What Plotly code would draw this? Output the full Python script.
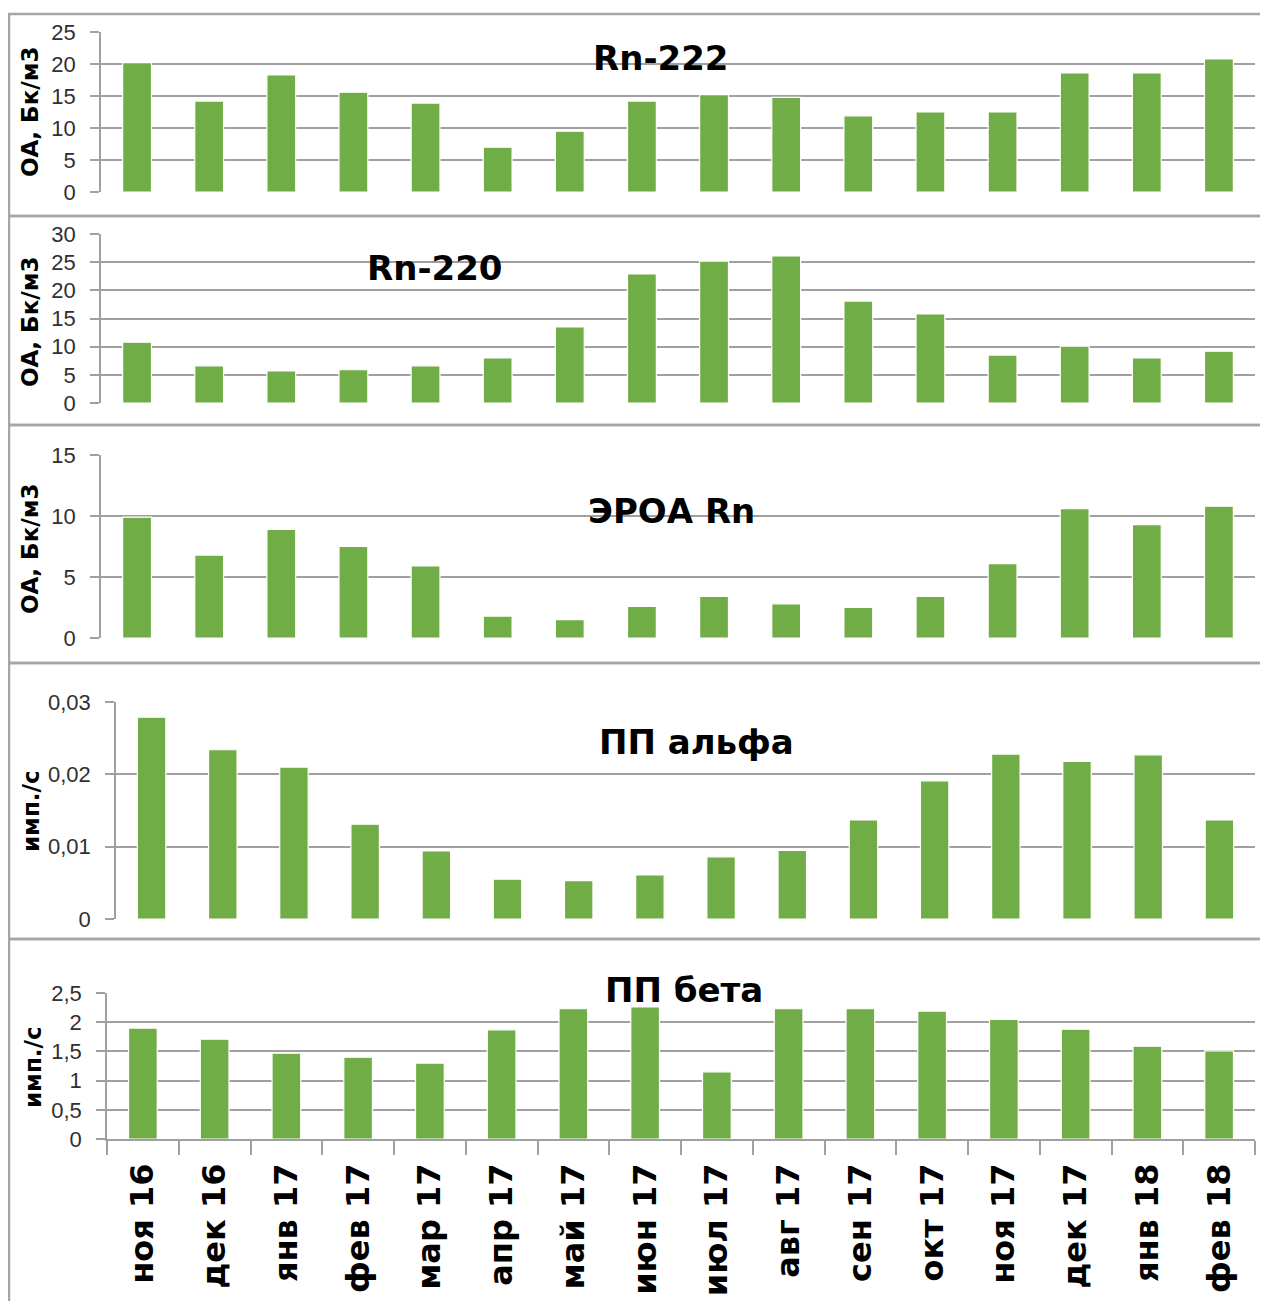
import plotly.graph_objects as go

months = ["ноя 16", "дек 16", "янв 17", "фев 17", "мар 17", "апр 17", "май 17", "июн 17",
          "июл 17", "авг 17", "сен 17", "окт 17", "ноя 17", "дек 17", "янв 18", "фев 18"]
rn222 = [20.2, 14.2, 18.3, 15.6, 13.9, 7.0, 9.5, 14.2, 15.2, 14.8, 11.9, 12.5, 12.5, 18.6, 18.6, 20.8]
rn220 = [10.8, 6.6, 5.7, 5.9, 6.6, 8.0, 13.5, 22.9, 25.2, 26.1, 18.1, 15.8, 8.5, 10.1, 8.0, 9.2]
eroa = [9.9, 6.8, 8.9, 7.5, 5.9, 1.8, 1.5, 2.6, 3.4, 2.8, 2.5, 3.4, 6.1, 10.6, 9.3, 10.8]
pp_alpha = [0.0279, 0.0234, 0.0210, 0.0131, 0.0094, 0.0055, 0.0053, 0.0061,
            0.0086, 0.0095, 0.0137, 0.0191, 0.0228, 0.0218, 0.0227, 0.0137]
pp_beta = [1.90, 1.71, 1.47, 1.40, 1.30, 1.87, 2.23, 2.26, 1.15, 2.23, 2.23, 2.19, 2.05, 1.88, 1.59, 1.51]

series = [rn222, rn220, eroa, pp_alpha, pp_beta]
titles = ["Rn-222", "Rn-220", "ЭРОА Rn", "ПП альфа", "ПП бета"]
ytitles = ["ОА, Бк/м3", "ОА, Бк/м3", "ОА, Бк/м3", "имп./с", "имп./с"]
yranges = [[0, 25], [0, 30], [0, 15], [0, 0.03], [0, 2.5]]
ydticks = [5, 5, 5, 0.01, 0.5]

# page body has an 8px margin: figure is placed at (8, 8)
OFF = 8
W, H = 1268 - OFF, 1301 - OFF
# pixel layout in page coordinates (top, bottom of plot area; left, right)
ypix = [(32, 192), (234, 403), (455, 638), (702, 919), (993, 1139)]
xpix = [(101, 1255), (101, 1255), (101, 1255), (116, 1255), (107, 1255)]
title_pos = [(660, 58), (434, 268), (671, 511), (697, 742), (684, 990)]
ytitle_pos = [(30, 112), (30, 322), (30, 549), (31, 811), (33, 1067)]
boxes = [(14, 216), (216, 425), (425, 663), (663, 939), (939, 1330)]

GREEN = "#70AD47"
GRID = "#A0A0A0"
BORDER = "#A6A6A6"

def py(p):
    return 1 - (p - OFF) / H

def px(p):
    return (p - OFF) / W

fig = go.Figure()
layout = dict(width=W, height=H, margin=dict(l=0, r=0, t=0, b=0, pad=0, autoexpand=False),
              paper_bgcolor="white", plot_bgcolor="white",
              separators=", ", showlegend=False, bargap=0.6,
              font=dict(family="Liberation Sans, Arial, sans-serif", color="#404040"))
annotations = []
shapes = []

for i in range(5):
    xa = "x" if i == 0 else f"x{i+1}"
    ya = "y" if i == 0 else f"y{i+1}"
    fig.add_trace(go.Bar(x=months, y=series[i], xaxis=xa, yaxis=ya,
                         marker=dict(color=GREEN, line=dict(color="white", width=1.2))))
    xkey = "xaxis" if i == 0 else f"xaxis{i+1}"
    ykey = "yaxis" if i == 0 else f"yaxis{i+1}"
    last = i == 4
    layout[xkey] = dict(domain=[px(xpix[i][0]), px(xpix[i][1])], anchor=ya,
                        type="category", showgrid=False, zeroline=False, automargin=False,
                        showline=last, linecolor=GRID, linewidth=1.5,
                        showticklabels=last,
                        ticks="outside" if last else "", tickson="boundaries",
                        ticklen=14, tickcolor=GRID, tickwidth=1.5,
                        tickangle=-90, ticklabelstandoff=10,
                        tickfont=dict(family="DejaVu Sans, sans-serif", size=32,
                                      color="black", weight="bold"))
    layout[ykey] = dict(domain=[py(ypix[i][1]), py(ypix[i][0])], anchor=xa,
                        range=yranges[i], dtick=ydticks[i], tick0=0, automargin=False,
                        showgrid=True, gridcolor=GRID, gridwidth=1.5,
                        zeroline=False, showline=True, linecolor=GRID, linewidth=1.5,
                        ticks="outside", ticklen=9, tickcolor=GRID, tickwidth=1.5,
                        ticklabelstandoff=10,
                        tickfont=dict(family="Liberation Sans, Arial, sans-serif",
                                      size=22, color="#303030"))
    tx, ty = title_pos[i]
    annotations.append(dict(text=titles[i], x=px(tx), y=py(ty), xref="paper", yref="paper",
                            xanchor="center", yanchor="middle", showarrow=False,
                            font=dict(family="DejaVu Sans, sans-serif", size=34,
                                      color="black", weight="bold")))
    ax_, ay_ = ytitle_pos[i]
    annotations.append(dict(text=ytitles[i], x=px(ax_), y=py(ay_), xref="paper", yref="paper",
                            xanchor="center", yanchor="middle", showarrow=False,
                            textangle=-90,
                            font=dict(family="DejaVu Sans, sans-serif", size=23,
                                      color="black", weight="bold")))
    b0, b1 = boxes[i]
    shapes.append(dict(type="rect", xref="paper", yref="paper",
                       x0=px(9), x1=1.05, y0=py(b1), y1=py(b0),
                       line=dict(color=BORDER, width=2.5), layer="below"))

layout["annotations"] = annotations
layout["shapes"] = shapes
fig.update_layout(**layout)
fig.write_html("out.html")
